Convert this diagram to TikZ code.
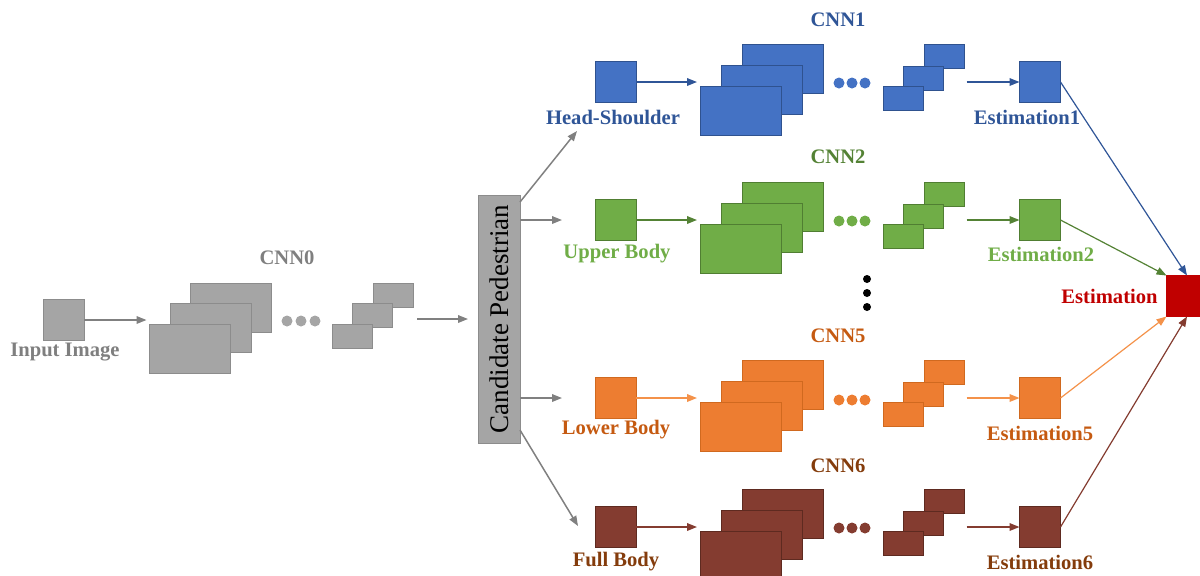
\documentclass[tikz,border=0pt]{standalone}
\usepackage{fontspec}
\setmainfont{Liberation Serif}
\usetikzlibrary{arrows.meta}

\definecolor{grayF}{HTML}{A5A5A5}
\definecolor{grayD}{HTML}{8C8C8C}
\definecolor{grayT}{HTML}{7F7F7F}
\definecolor{grayA}{HTML}{808080}
\definecolor{blueF}{HTML}{4472C4}
\definecolor{blueD}{HTML}{2F528F}
\definecolor{blueT}{HTML}{2F5597}
\definecolor{greenF}{HTML}{70AD47}
\definecolor{greenD}{HTML}{507E32}
\definecolor{greenT}{HTML}{548235}
\definecolor{greenL}{HTML}{70AD47}
\definecolor{orangeF}{HTML}{ED7D31}
\definecolor{orangeD}{HTML}{D0691F}
\definecolor{orangeT}{HTML}{C55A11}
\definecolor{orangeA}{HTML}{F4924A}
\definecolor{brownF}{HTML}{843C30}
\definecolor{brownD}{HTML}{5E2A20}
\definecolor{brownT}{HTML}{843C0C}
\definecolor{redF}{HTML}{C00000}
\definecolor{redD}{HTML}{C00000}

\tikzset{
  blk/.style={fill=#1F, draw=#1D, line width=0.4pt, inner sep=0pt, outer sep=0pt},
  sq/.style={blk=#1, minimum width=20.5pt, minimum height=20.5pt},
  fmap/.style={blk=#1, minimum width=40.5pt, minimum height=24.5pt},
  fsml/.style={blk=#1, minimum width=20pt, minimum height=12pt},
  fdot/.style={circle, fill=#1, inner sep=0pt, minimum size=5.5pt},
  vdot/.style={circle, fill=black, inner sep=0pt, minimum size=4pt},
  lbl/.style={text=#1, inner sep=0pt, font=\fontsize{10.3}{12}\selectfont\bfseries},
  arr/.style={draw=#1, line width=0.75pt, -{Triangle[length=5pt,width=3.8pt]}},
  thin arr/.style={draw=#1, line width=0.6pt, -{Triangle[length=5pt,width=3.8pt]}},
}

\begin{document}
\begin{tikzpicture}[x=0.5pt,y=-0.5pt]
\useasboundingbox (0,0) rectangle (1200,575);

% CNN0 on the input image
\node[sq=gray] (in0) at (63.5,320) {};
\node[lbl=grayT] (lin0) at (65,352) {Input Image};
\node[fmap=gray] (f0c) at (231,307.5) {};
\node[fmap=gray] (f0b) at (210.5,327.5) {};
\node[fmap=gray] (f0a) at (190,348.5) {};
\node[fdot=grayF] (d0a) at (287,321) {};
\node[fdot=grayF] (d0b) at (301,321) {};
\node[fdot=grayF] (d0c) at (315,321) {};
\node[fsml=gray] (s0c) at (393,295) {};
\node[fsml=gray] (s0b) at (372.5,315) {};
\node[fsml=gray] (s0a) at (352,336) {};
\node[lbl=grayT] (c0) at (287,258) {CNN0};

% candidate box
\node[blk=gray, minimum width=21pt, minimum height=124pt] (cand) at (499,319) {};
\node[rotate=90, inner sep=0pt, font=\fontsize{13.5}{15}\selectfont] (ctxt) at (cand.center) {Candidate Pedestrian};

\draw[arr=grayA] (in0.east) -- ([xshift=-1.5pt]in0.east -| f0a.west);
\draw[arr=grayA] ([xshift=2pt]s0c.east |- cand.west) -- ([xshift=-5pt]cand.west);

% row 1
\node[sq=blue] (in1) at (615.5,82) {};
\node[lbl=blueT] (lin1) at (613,117) {Head-Shoulder};
\node[fmap=blue] (f1c) at (782.5,68.5) {};
\node[fmap=blue] (f1b) at (761.5,89.5) {};
\node[fmap=blue] (f1a) at (740.5,110.5) {};
\node[fdot=blueF] (d1a) at (839,83) {};
\node[fdot=blueF] (d1b) at (852,83) {};
\node[fdot=blueF] (d1c) at (865,83) {};
\node[fsml=blue] (s1c) at (944.5,56) {};
\node[fsml=blue] (s1b) at (923.5,78) {};
\node[fsml=blue] (s1a) at (903.5,98) {};
\node[sq=blue] (e1) at (1040,82) {};
\node[lbl=blueT] (le1) at (1027,117) {Estimation1};
\node[lbl=blueT] (c1) at (838,20) {CNN1};

% row 2
\node[sq=green] (in2) at (615.5,220) {};
\node[lbl=greenL] (lin2) at (617,254) {Upper Body};
\node[fmap=green] (f2c) at (782.5,206.5) {};
\node[fmap=green] (f2b) at (761.5,227.5) {};
\node[fmap=green] (f2a) at (740.5,248.5) {};
\node[fdot=greenF] (d2a) at (839,221) {};
\node[fdot=greenF] (d2b) at (852,221) {};
\node[fdot=greenF] (d2c) at (865,221) {};
\node[fsml=green] (s2c) at (944.5,194) {};
\node[fsml=green] (s2b) at (923.5,216) {};
\node[fsml=green] (s2a) at (903.5,236) {};
\node[sq=green] (e2) at (1040,220) {};
\node[lbl=greenL] (le2) at (1041,254) {Estimation2};
\node[lbl=greenT] (c2) at (838,157) {CNN2};

% row 5
\node[sq=orange] (in5) at (615.5,398) {};
\node[lbl=orangeT] (lin5) at (616,430) {Lower Body};
\node[fmap=orange] (f5c) at (782.5,384.5) {};
\node[fmap=orange] (f5b) at (761.5,405.5) {};
\node[fmap=orange] (f5a) at (740.5,426.5) {};
\node[fdot=orangeF] (d5a) at (839,400) {};
\node[fdot=orangeF] (d5b) at (852,400) {};
\node[fdot=orangeF] (d5c) at (865,400) {};
\node[fsml=orange] (s5c) at (944.5,372) {};
\node[fsml=orange] (s5b) at (923.5,394) {};
\node[fsml=orange] (s5a) at (903.5,414) {};
\node[sq=orange] (e5) at (1040,398) {};
\node[lbl=orangeT] (le5) at (1040,433) {Estimation5};
\node[lbl=orangeT] (c5) at (838,336) {CNN5};

% row 6
\node[sq=brown] (in6) at (615.5,527) {};
\node[lbl=brownT] (lin6) at (616,562) {Full Body};
\node[fmap=brown] (f6c) at (782.5,513.5) {};
\node[fmap=brown] (f6b) at (761.5,534.5) {};
\node[fmap=brown] (f6a) at (740.5,555.5) {};
\node[fdot=brownF] (d6a) at (839,528) {};
\node[fdot=brownF] (d6b) at (852,528) {};
\node[fdot=brownF] (d6c) at (865,528) {};
\node[fsml=brown] (s6c) at (944.5,501) {};
\node[fsml=brown] (s6b) at (923.5,523) {};
\node[fsml=brown] (s6a) at (903.5,543) {};
\node[sq=brown] (e6) at (1040,527) {};
\node[lbl=brownT] (le6) at (1040,562) {Estimation6};
\node[lbl=brownT] (c6) at (838,466) {CNN6};

% dots between the rows
\node[vdot] (v1) at (867,279) {};
\node[vdot] (v2) at (867,293) {};
\node[vdot] (v3) at (867,307) {};

% final estimation
\node[sq=red] (est) at (1187,296) {};
\node[lbl=redF, anchor=east] (lest) at (1158,296) {Estimation};

% arrows from the candidate box
\coordinate (t1) at (577,131);
\coordinate (t6) at (578,526);
\draw[arr=grayA] ([yshift=-3.5pt]cand.north east) -- (t1);
\draw[arr=grayA] (cand.east |- in2.west) -- ([xshift=-16.5pt]in2.west);
\draw[arr=grayA] (cand.east |- in5.west) -- ([xshift=-16.5pt]in5.west);
\draw[arr=grayA] ([yshift=6.5pt]cand.south east) -- (t6);

% arrows along the rows
\draw[arr=blueT] (in1.east) -- ([xshift=-1.5pt]in1.east -| f1a.west);
\draw[arr=greenT] (in2.east) -- ([xshift=-1.5pt]in2.east -| f2a.west);
\draw[arr=orangeA] (in5.east) -- ([xshift=-1.5pt]in5.east -| f5a.west);
\draw[arr=brownF] (in6.east) -- ([xshift=-1.5pt]in6.east -| f6a.west);
\draw[arr=blueT] ([xshift=1pt]e1.west -| s1c.east) -- (e1.west);
\draw[arr=greenT] ([xshift=1pt]e2.west -| s2c.east) -- (e2.west);
\draw[arr=orangeA] ([xshift=1pt]e5.west -| s5c.east) -- (e5.west);
\draw[arr=brownF] ([xshift=1pt]e6.west -| s6c.east) -- (e6.west);

% arrows into the estimation
\draw[thin arr=blueT] (e1.east) -- (est.north);
\draw[thin arr=greenT] (e2.east) -- (est.north west);
\draw[thin arr=orangeA] (e5.east) -- (est.south west);
\draw[thin arr=brownF] (e6.east) -- (est.south);
\end{tikzpicture}
\end{document}
